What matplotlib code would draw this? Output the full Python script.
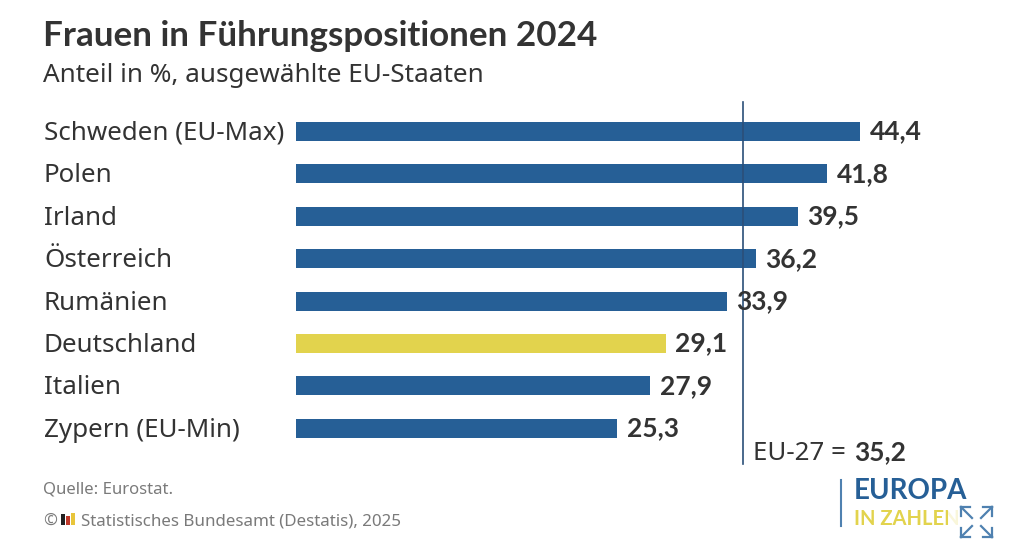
import matplotlib
matplotlib.use("Agg")
import matplotlib.pyplot as plt
from matplotlib.patches import Rectangle

plt.rcParams['font.family'] = ['Noto Sans', 'DejaVu Sans']
BOLD = ['Lato', 'DejaVu Sans']

countries = ["Schweden (EU-Max)", "Polen", "Irland", "Österreich", "Rumänien",
             "Deutschland", "Italien", "Zypern (EU-Min)"]
values = [44.4, 41.8, 39.5, 36.2, 33.9, 29.1, 27.9, 25.3]
value_labels = ["44,4", "41,8", "39,5", "36,2", "33,9", "29,1", "27,9", "25,3"]
highlight = "Deutschland"
eu_avg = 35.2
eu_name = "EU-27 = "
eu_label = "35,2"
title = "Frauen in Führungspositionen 2024"
subtitle = "Anteil in %, ausgewählte EU-Staaten"
source = "Quelle: Eurostat."
copyright_text = "©"
copyright_rest = "Statistisches Bundesamt (Destatis), 2025"

W, H = 1024, 556
BLUE, YELLOW, DARK, GREY = "#265f96", "#e2d34d", "#333333", "#7a7a7a"
LINE = "#2b4f78"
ICON = "#4f81b0"

fig = plt.figure(figsize=(W / 100, H / 100), dpi=100, facecolor="white")
ax = fig.add_axes([296 / W, 0, 1 - 296 / W, 1])
ax.set_xlim(0, (W - 296) / 12.7)
ax.set_ylim(H, 0)
ax.axis("off")

row0, step = 131.5, 42.4
ypos = [row0 + i * step for i in range(len(values))]
colors = [YELLOW if c == highlight else BLUE for c in countries]
ax.barh(ypos, values, height=19, color=colors, linewidth=0, zorder=1)
ax.plot([eu_avg, eu_avg], [102, 464], color=LINE, lw=1.2, zorder=2)

for c, v, lab, y in zip(countries, values, value_labels, ypos):
    ax.annotate(lab, (v, y), xytext=(7, 0), textcoords="offset points",
                ha="left", va="center", fontsize=19, fontweight="bold",
                family=BOLD, color=DARK, zorder=3)


def t(x, y, s, **kw):
    fig.text(x / W, 1 - y / H, s, **kw)


t(43, 35.5, title, fontsize=25.2, fontweight="bold", family=BOLD, color=DARK, va="center")
t(43, 76, subtitle, fontsize=18.8, color=DARK, va="center")
for c, y in zip(countries, ypos):
    t(44, y + 2, c, fontsize=18.7, color=DARK, va="center")
t(753, 454, eu_name, fontsize=18.6, color=DARK, va="center")
t(854, 452, eu_label, fontsize=19, fontweight="bold", family=BOLD, color=DARK, va="center")
t(43, 490, source, fontsize=12, color=GREY, va="center")
t(43, 521, copyright_text, fontsize=12, color=GREY, va="center")
t(81, 521, copyright_rest, fontsize=12.2, color=GREY, va="center")

# Destatis mini logo
for x, h, col in [(61, 11, "#222222"), (66, 9, "#c0392b"), (71, 12, "#e8c53a")]:
    fig.add_artist(Rectangle((x / W, 1 - 525 / H), 4 / W, h / H, transform=fig.transFigure,
                             color=col, lw=0))

# Europa in Zahlen logo
fig.add_artist(plt.Line2D([841 / W, 841 / W], [1 - 526 / H, 1 - 480 / H], color=ICON, lw=1.5))
t(854, 491, "EUROPA", fontsize=20, fontweight="bold", family=BOLD, color=BLUE, va="center")
t(854, 519, "IN ZAHLEN", fontsize=14.5, fontweight="bold", family=BOLD, color=YELLOW, va="center")
fig.add_artist(Rectangle((948 / W, 1 - 540 / H), 47 / W, 36 / H, transform=fig.transFigure,
                         color="white", lw=0, alpha=0.8, zorder=5))
a = fig.add_axes([0, 0, 1, 1], facecolor="none", zorder=6, label="arrows")
a.set_xlim(0, W); a.set_ylim(H, 0); a.axis("off")
for (x0, y0, dx, dy) in [(972, 518, -11, -11), (981, 518, 11, -11), (972, 526, -11, 11), (981, 526, 11, 11)]:
    xc, yc = x0 + dx, y0 + dy
    a.plot([x0, xc], [y0, yc], color=ICON, lw=1.6)
    a.plot([xc, xc], [yc, yc - dy * 0.85], color=ICON, lw=1.6)
    a.plot([xc, xc - dx * 0.85], [yc, yc], color=ICON, lw=1.6)

fig.savefig("out.png", dpi=100)
